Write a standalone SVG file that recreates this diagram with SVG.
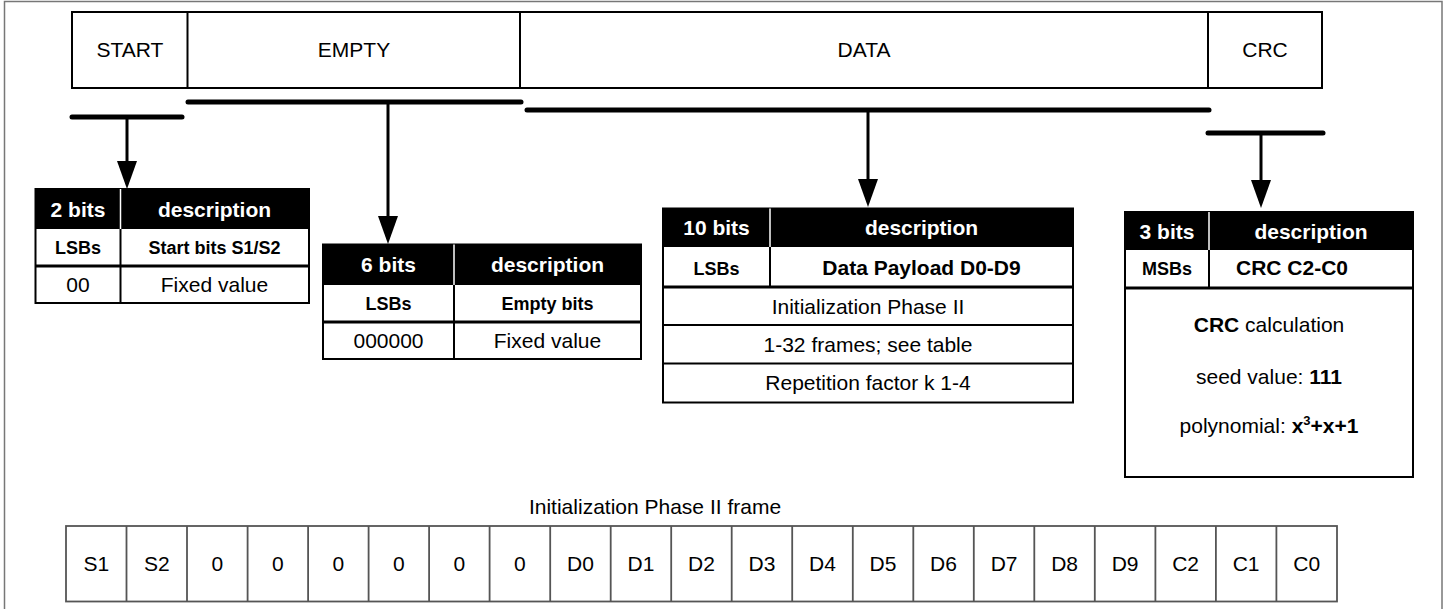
<svg xmlns="http://www.w3.org/2000/svg" width="1450" height="609" viewBox="0 0 1450 609">
<style>
text{font-family:"Liberation Sans",Arial,sans-serif;fill:#000;text-anchor:middle}
.n{font-size:21px}
.h{font-size:21px;font-weight:bold;fill:#fff}
.b{font-size:18px;font-weight:bold}
.bb{font-size:21px;font-weight:bold}
.tb{fill:#fff;stroke:#000;stroke-width:2}
.hd{fill:#000}
.ln{stroke:#000;stroke-width:2}
.ln3{stroke:#000;stroke-width:3}
.wl{stroke:#fff;stroke-width:1.5}
.bar{stroke:#000;stroke-width:5;stroke-linecap:round}
.arr{stroke:#000;stroke-width:3;marker-end:url(#ah)}
.fc{fill:#fff;stroke:#555;stroke-width:1.8}
.fl{stroke:#555;stroke-width:1.8}
</style>
<defs>
<marker id="ah" viewBox="0 0 28 20" refX="1" refY="10" markerWidth="28" markerHeight="20" markerUnits="userSpaceOnUse" orient="auto"><path d="M0,0 L28,10 L0,20 Z" fill="#000"/></marker>
</defs>
<rect x="0" y="0" width="1450" height="609" fill="#fff"/>
<rect x="4.5" y="1.5" width="1437.5" height="640" fill="none" stroke="#777" stroke-width="1.5"/>

<g id="frame-top">
<rect x="72" y="12" width="1250" height="76" class="tb"/>
<line x1="187.5" y1="12" x2="187.5" y2="88" class="ln"/>
<line x1="520" y1="12" x2="520" y2="88" class="ln"/>
<line x1="1208" y1="12" x2="1208" y2="88" class="ln"/>
<text x="130" y="57" class="n" font-size="20">START</text>
<text x="354" y="57" class="n" font-size="20">EMPTY</text>
<text x="864" y="57" class="n" font-size="20">DATA</text>
<text x="1265" y="57" class="n" font-size="20">CRC</text>
</g>

<g id="connectors">
<line x1="72" y1="117" x2="182" y2="117" class="bar"/>
<line x1="188" y1="102" x2="521" y2="102" class="bar"/>
<line x1="527" y1="110" x2="1209" y2="110" class="bar"/>
<line x1="1208" y1="133" x2="1323" y2="133" class="bar"/>
<line x1="127" y1="117" x2="127" y2="162" class="arr"/>
<line x1="388" y1="102" x2="388" y2="217" class="arr"/>
<line x1="868" y1="110" x2="868" y2="180" class="arr"/>
<line x1="1261" y1="133" x2="1261" y2="181" class="arr"/>
</g>

<g id="start-table">
<rect x="35.5" y="189" width="273.5" height="114" class="tb"/>
<rect x="35.5" y="189" width="273.5" height="40" class="hd"/>
<line x1="120.5" y1="189" x2="120.5" y2="229" class="wl"/>
<line x1="120.5" y1="229" x2="120.5" y2="303" class="ln"/>
<line x1="35.5" y1="266" x2="309" y2="266" class="ln3"/>
<text x="78" y="216.5" class="h">2 bits</text>
<text x="214.5" y="216.5" class="h">description</text>
<text x="78" y="254" class="b">LSBs</text>
<text x="214.5" y="254" class="b">Start bits S1/S2</text>
<text x="78" y="291.5" class="n" font-size="18">00</text>
<text x="214.5" y="291.5" class="n">Fixed value</text>
</g>

<g id="empty-table">
<rect x="323" y="244.5" width="318" height="114.5" class="tb"/>
<rect x="323" y="244.5" width="318" height="40.5" class="hd"/>
<line x1="454" y1="244.5" x2="454" y2="285" class="wl"/>
<line x1="454" y1="285" x2="454" y2="359" class="ln"/>
<line x1="323" y1="322" x2="641" y2="322" class="ln3"/>
<text x="388.5" y="272" class="h">6 bits</text>
<text x="547.5" y="272" class="h">description</text>
<text x="388.5" y="310" class="b">LSBs</text>
<text x="547.5" y="310" class="b">Empty bits</text>
<text x="388.5" y="348" class="n" font-size="18">000000</text>
<text x="547.5" y="348" class="n">Fixed value</text>
</g>

<g id="data-table">
<rect x="663" y="208.5" width="410" height="194" class="tb"/>
<rect x="663" y="208.5" width="410" height="38.5" class="hd"/>
<line x1="770" y1="208.5" x2="770" y2="247" class="wl"/>
<line x1="770" y1="247" x2="770" y2="287" class="ln"/>
<line x1="663" y1="287" x2="1073" y2="287" class="ln3"/>
<line x1="663" y1="325" x2="1073" y2="325" class="ln"/>
<line x1="663" y1="363.5" x2="1073" y2="363.5" class="ln"/>
<text x="716.5" y="235" class="h">10 bits</text>
<text x="921.5" y="235" class="h">description</text>
<text x="716.5" y="274.5" class="b">LSBs</text>
<text x="921.5" y="274.5" class="bb">Data Payload D0-D9</text>
<text x="868" y="313.5" class="n">Initialization Phase II</text>
<text x="868" y="351.5" class="n">1-32 frames; see table</text>
<text x="868" y="390" class="n">Repetition factor k 1-4</text>
</g>

<g id="crc-table">
<rect x="1125" y="212" width="288" height="265" class="tb"/>
<rect x="1125" y="212" width="288" height="38" class="hd"/>
<line x1="1209" y1="212" x2="1209" y2="250" class="wl"/>
<line x1="1209" y1="250" x2="1209" y2="288" class="ln"/>
<line x1="1125" y1="288" x2="1413" y2="288" class="ln3"/>
<text x="1167" y="239" class="h">3 bits</text>
<text x="1311" y="239" class="h">description</text>
<text x="1167" y="275" class="b">MSBs</text>
<text x="1292" y="275" class="bb">CRC C2-C0</text>
<text x="1269" y="332" class="n"><tspan font-weight="bold">CRC</tspan> calculation</text>
<text x="1269" y="384" class="n">seed value: <tspan font-weight="bold">111</tspan></text>
<text x="1269" y="433" class="n">polynomial: <tspan font-weight="bold">x</tspan><tspan font-weight="bold" font-size="13" dy="-8">3</tspan><tspan font-weight="bold" dy="8">+x+1</tspan></text>
</g>

<g id="phase2-frame">
<text x="655" y="514" class="n">Initialization Phase II frame</text>
<rect x="66" y="526" width="1271" height="75.5" class="fc"/>
<path class="fl" d="M126.5,526V601.5M187,526V601.5M247.6,526V601.5M308.1,526V601.5M368.6,526V601.5M429.1,526V601.5M489.6,526V601.5M550.2,526V601.5M610.7,526V601.5M671.2,526V601.5M731.7,526V601.5M792.2,526V601.5M852.8,526V601.5M913.3,526V601.5M973.8,526V601.5M1034.3,526V601.5M1094.8,526V601.5M1155.4,526V601.5M1215.9,526V601.5M1276.4,526V601.5"/>
<text x="96.3" y="571" class="n">S1</text>
<text x="156.8" y="571" class="n">S2</text>
<text x="217.3" y="571" class="n">0</text>
<text x="277.8" y="571" class="n">0</text>
<text x="338.3" y="571" class="n">0</text>
<text x="398.9" y="571" class="n">0</text>
<text x="459.4" y="571" class="n">0</text>
<text x="519.9" y="571" class="n">0</text>
<text x="580.4" y="571" class="n">D0</text>
<text x="640.9" y="571" class="n">D1</text>
<text x="701.5" y="571" class="n">D2</text>
<text x="762" y="571" class="n">D3</text>
<text x="822.5" y="571" class="n">D4</text>
<text x="883" y="571" class="n">D5</text>
<text x="943.5" y="571" class="n">D6</text>
<text x="1004.1" y="571" class="n">D7</text>
<text x="1064.6" y="571" class="n">D8</text>
<text x="1125.1" y="571" class="n">D9</text>
<text x="1185.6" y="571" class="n">C2</text>
<text x="1246.1" y="571" class="n">C1</text>
<text x="1306.7" y="571" class="n">C0</text>
</g>
</svg>
